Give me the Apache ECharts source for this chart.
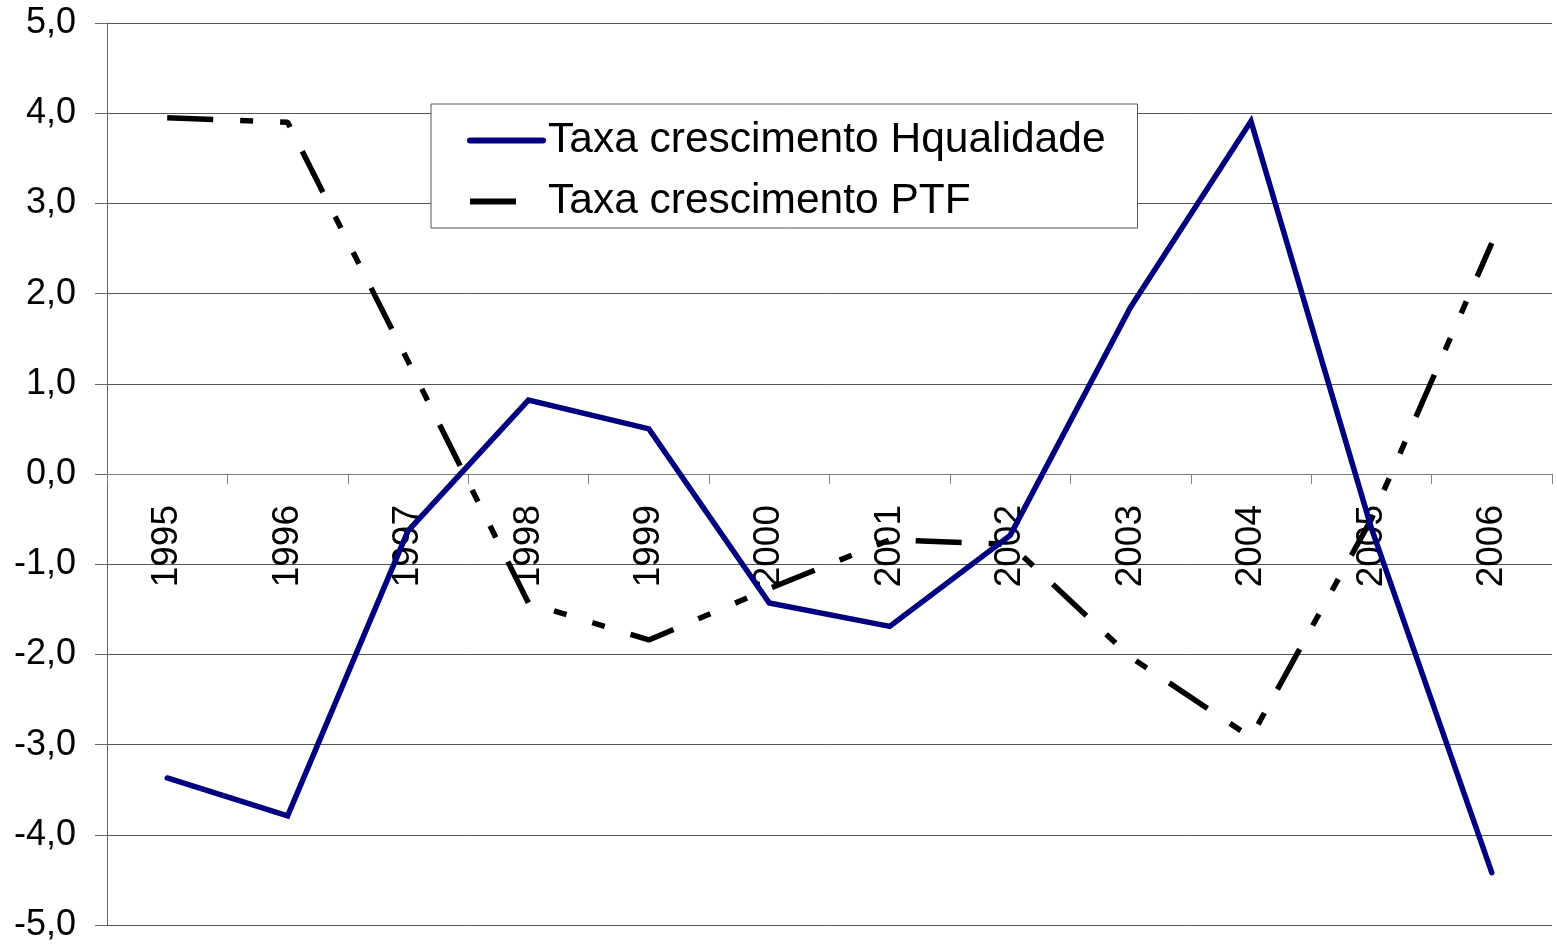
<!DOCTYPE html>
<html>
<head>
<meta charset="utf-8">
<script src="https://cdn.jsdelivr.net/npm/echarts@6/dist/echarts.min.js"></script>
<style>
html,body{margin:0;padding:0;background:#fff;}
#chart{width:1557px;height:945px;}
</style>
</head>
<body>
<div id="chart"></div>
<script>
const categories = ['1995','1996','1997','1998','1999','2000','2001','2002','2003','2004','2005','2006'];
const hqualidade = [-3.37, -3.79, -0.63, 0.82, 0.50, -1.43, -1.69, -0.68, 1.85, 3.91, -0.60, -4.42];
const ptf = [3.95, 3.90, 1.25, -1.43, -1.84, -1.27, -0.73, -0.78, -2.03, -2.92, -0.50, 2.56];
const seriesNames = ['Taxa crescimento Hqualidade', 'Taxa crescimento PTF'];
const yTicks = { min: -5, max: 5, interval: 1 };

const FONT = 'Liberation Sans, Arial, sans-serif';
const DASH = [46, 27, 13, 27, 13, 27];
const W = 1557, H = 945;
const GRID = { left: 107, right: 5, top: 23, bottom: 20 };
const gridH = H - GRID.top - GRID.bottom;
// place the category axis where y = 0 (Excel style)
const zeroOffset = -gridH * (0 - yTicks.min) / (yTicks.max - yTicks.min);

const chart = echarts.init(document.getElementById('chart'), null, { renderer: 'canvas' });
chart.setOption({
  backgroundColor: '#ffffff',
  animation: false,
  grid: Object.assign({ containLabel: false, outerBoundsMode: 'none' }, GRID),
  legend: {
    orient: 'vertical',
    left: 431,
    top: 104,
    padding: [15, 32, 5, 36],
    itemGap: 18,
    itemWidth: 73,
    itemHeight: 20,
    backgroundColor: '#ffffff',
    borderColor: '#555555',
    borderWidth: 1,
    itemStyle: { opacity: 0 },
    textStyle: { fontFamily: FONT, fontSize: 42.5, color: '#000' },
    data: [
      { name: seriesNames[0], lineStyle: { width: 6, cap: 'round', color: '#000080' } },
      { name: seriesNames[1], lineStyle: { width: 6, cap: 'butt', color: '#000000', type: DASH } }
    ]
  },
  xAxis: {
    type: 'category',
    data: categories,
    boundaryGap: true,
    position: 'bottom',
    offset: zeroOffset,
    axisLine: { onZero: false, lineStyle: { color: '#808080', width: 1 } },
    axisTick: { show: true, length: 10, alignWithLabel: false, lineStyle: { color: '#808080' } },
    axisLabel: { interval: 0, rotate: 90, margin: 31, fontFamily: FONT, fontSize: 37, color: '#000' },
    splitLine: { show: false }
  },
  yAxis: {
    type: 'value',
    min: yTicks.min,
    max: yTicks.max,
    interval: yTicks.interval,
    axisLine: { show: true, lineStyle: { color: '#666666', width: 1 } },
    axisTick: { show: true, length: 12, lineStyle: { color: '#666666' } },
    axisLabel: {
      margin: 31, fontFamily: FONT, fontSize: 36, color: '#000',
      formatter: v => v.toFixed(1).replace('.', ',')
    },
    splitLine: { show: true, lineStyle: { color: '#555555', width: 1 } }
  },
  series: [
    {
      name: seriesNames[0],
      type: 'line',
      data: hqualidade,
      symbol: 'none',
      z: 4,
      lineStyle: { color: '#000080', width: 5.5, cap: 'round', join: 'miter' },
      itemStyle: { color: '#000080' }
    },
    {
      name: seriesNames[1],
      type: 'line',
      data: ptf,
      symbol: 'none',
      z: 3,
      lineStyle: { color: '#000000', width: 5.5, type: DASH, cap: 'butt' },
      itemStyle: { color: '#000000' }
    }
  ]
});
</script>
</body>
</html>
